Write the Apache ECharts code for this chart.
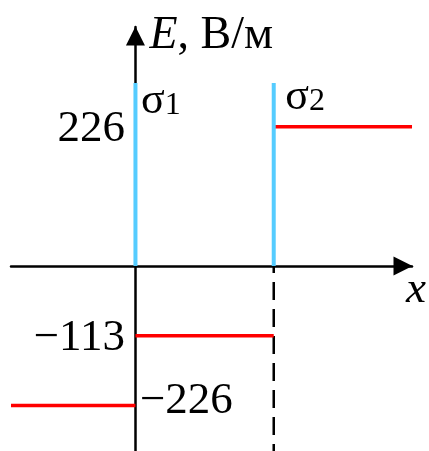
<!DOCTYPE html>
<html>
<head>
<meta charset="utf-8">
<script src="https://cdn.jsdelivr.net/npm/echarts@6/dist/echarts.min.js"></script>
<style>
  html, body { margin: 0; padding: 0; background: #fff; }
  #chart { width: 429px; height: 451px; }
</style>
</head>
<body>
<div id="chart"></div>
<script>
// Electric field E (В/м) around two charged planes σ1 (x = 0) and σ2 (x = 1)
const planeX = [0, 1];
const planeNames = ['1', '2'];
const planeHeight = 297;

// Field in each region: [xStart, xEnd, E]
const regionStart = [-0.9, 0, 1];
const regionEnd = [0, 1, 2];
const fieldValues = [-226, -113, 226];

// Values written beside the vertical axis
const tickValues = [226, -113, -226];

const xRange = [-0.9, 2];
const yRange = [-300, 388];

const serif = 'Liberation Serif';
const fmt = v => (v < 0 ? '\u2212' + Math.abs(v) : String(v));

const series = [];

// charged planes
planeX.forEach((x, i) => {
  series.push({
    type: 'line',
    symbol: 'none',
    z: 3,
    lineStyle: { color: '#55CCFF', width: 4 },
    data: [[x, 0], [x, planeHeight]]
  });
});

// dashed guide below the second plane
series.push({
  type: 'line',
  symbol: 'none',
  z: 1,
  lineStyle: { color: '#000', width: 2.5, type: [18, 9], dashOffset: 11 },
  data: [[planeX[1], 0], [planeX[1], yRange[0]]]
});

// field level in each region
fieldValues.forEach((v, i) => {
  series.push({
    type: 'line',
    symbol: 'none',
    z: 2,
    lineStyle: { color: '#FF0000', width: 3.5 },
    data: [[regionStart[i], v], [regionEnd[i], v]]
  });
});

// plane names σ1, σ2
series.push({
  type: 'scatter',
  symbolSize: 1,
  itemStyle: { color: 'transparent', opacity: 1 },
  silent: true,
  z: 4,
  label: {
    show: true,
    position: 'right',
    formatter: p => '{s|σ}{n|' + planeNames[p.dataIndex] + '}',
    rich: {
      s: { fontFamily: serif, fontSize: 44, color: '#000' },
      n: { fontFamily: serif, fontSize: 32, color: '#000', padding: [10, 0, 0, 0] }
    }
  },
  data: planeX.map((x, i) => ({
    value: [x, planeHeight],
    label: i === 0
      ? { distance: 5, offset: [0, 18] }
      : { distance: 11, offset: [0, 14] }
  }))
});

// value labels next to the E axis
series.push({
  type: 'scatter',
  symbolSize: 1,
  itemStyle: { color: 'transparent', opacity: 1 },
  silent: true,
  z: 4,
  label: {
    show: true,
    fontFamily: serif,
    fontSize: 45,
    color: '#000',
    formatter: p => fmt(p.value[1])
  },
  data: tickValues.map((v, i) => ({
    value: [0, v],
    label: i < 2
      ? { position: 'left', distance: 10, offset: [0, 2] }
      : { position: 'right', distance: 4, offset: [0, -4] }
  }))
});

const axisLine = {
  onZero: true,
  symbol: ['none', 'triangle'],
  symbolSize: [19, 19],
  symbolOffset: [0, -9],
  lineStyle: { color: '#000', width: 2.5 }
};

const option = {
  animation: false,
  backgroundColor: '#fff',
  grid: { left: 11, right: 16, top: 27, bottom: 0 },
  xAxis: {
    type: 'value',
    min: xRange[0],
    max: xRange[1],
    axisLine: axisLine,
    axisTick: { show: false },
    axisLabel: { show: false },
    splitLine: { show: false },
    name: 'x',
    nameLocation: 'end',
    nameGap: 4,
    nameTextStyle: {
      fontFamily: serif,
      fontStyle: 'italic',
      fontSize: 45,
      color: '#000',
      align: 'center',
      verticalAlign: 'top',
      padding: [2, 0, 0, 0]
    }
  },
  yAxis: {
    type: 'value',
    min: yRange[0],
    max: yRange[1],
    axisLine: axisLine,
    axisTick: { show: false },
    axisLabel: { show: false },
    splitLine: { show: false },
    name: '{e|E}{r|, В/м}',
    nameLocation: 'end',
    nameGap: -9,
    nameTextStyle: {
      align: 'left',
      verticalAlign: 'middle',
      padding: [0, 0, 0, 14],
      rich: {
        e: { fontFamily: serif, fontStyle: 'italic', fontSize: 46, color: '#000' },
        r: { fontFamily: serif, fontSize: 46, color: '#000' }
      }
    }
  },
  series: series
};

echarts.init(document.getElementById('chart'), null, { renderer: 'canvas' }).setOption(option);
</script>
</body>
</html>
